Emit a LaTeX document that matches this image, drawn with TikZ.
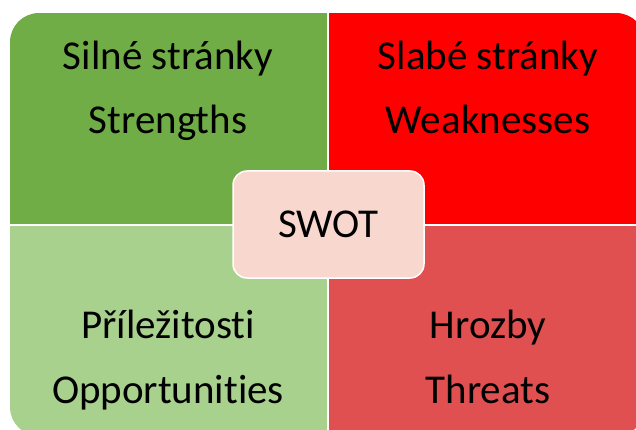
\documentclass[tikz,border=0pt]{standalone}
\usepackage{fontspec}
\setmainfont{Carlito}[Ligatures=NoCommon]
\usepackage{tikz}
\usetikzlibrary{positioning}
\definecolor{strengthcolor}{RGB}{112, 173, 71}
\definecolor{weaknesscolor}{RGB}{255, 0, 0}
\definecolor{opportunitycolor}{RGB}{169, 209, 142}
\definecolor{threatcolor}{RGB}{224, 80, 80}
\definecolor{swotcolor}{RGB}{248, 216, 206}

\begin{document}
\begin{tikzpicture}[x=1pt, y=-1pt,
    quadrant/.style={inner sep=0pt, outer sep=0pt, anchor=north west},
    caption/.style={anchor=base, inner sep=0pt, font=\fontsize{41}{48}\selectfont},
    center/.style={draw=white, line width=1.5pt, fill=swotcolor, rounded corners=14pt, minimum width=191pt, minimum height=107pt, font=\fontsize{41}{48}\selectfont},
]
    \useasboundingbox (0,0) rectangle (636,430);

    % Quadrants
    \begin{scope}
        \clip[rounded corners=29pt] (10,13) rectangle (645,436);
        \node[quadrant, fill=strengthcolor, minimum width=317pt, minimum height=211pt] (str) at (10,13) {};
        \node[quadrant, fill=weaknesscolor, minimum width=316pt, minimum height=211pt] (weak) at (329,13) {};
        \node[quadrant, fill=opportunitycolor, minimum width=317pt, minimum height=211pt] (opp) at (10,226) {};
        \node[quadrant, fill=threatcolor, minimum width=316pt, minimum height=211pt] (thr) at (329,226) {};
    \end{scope}

    % Labels
    \node[caption] (strCZ) at (168, 70) {Silné stránky};
    \node[caption] (strEN) at (168, 134) {Strengths};
    \node[caption] (weakCZ) at (488, 70) {Slabé stránky};
    \node[caption] (weakEN) at (488, 134) {Weaknesses};
    \node[caption] (oppCZ) at (168, 338) {Příležitosti};
    \node[caption] (oppEN) at (168, 403) {Opportunities};
    \node[caption] (thrCZ) at (488, 338) {Hrozby};
    \node[caption] (thrEN) at (488, 403) {Threats};

    % Centre
    \node[center] (swot) at (328.5, 224.5) {SWOT};

\end{tikzpicture}
\end{document}
